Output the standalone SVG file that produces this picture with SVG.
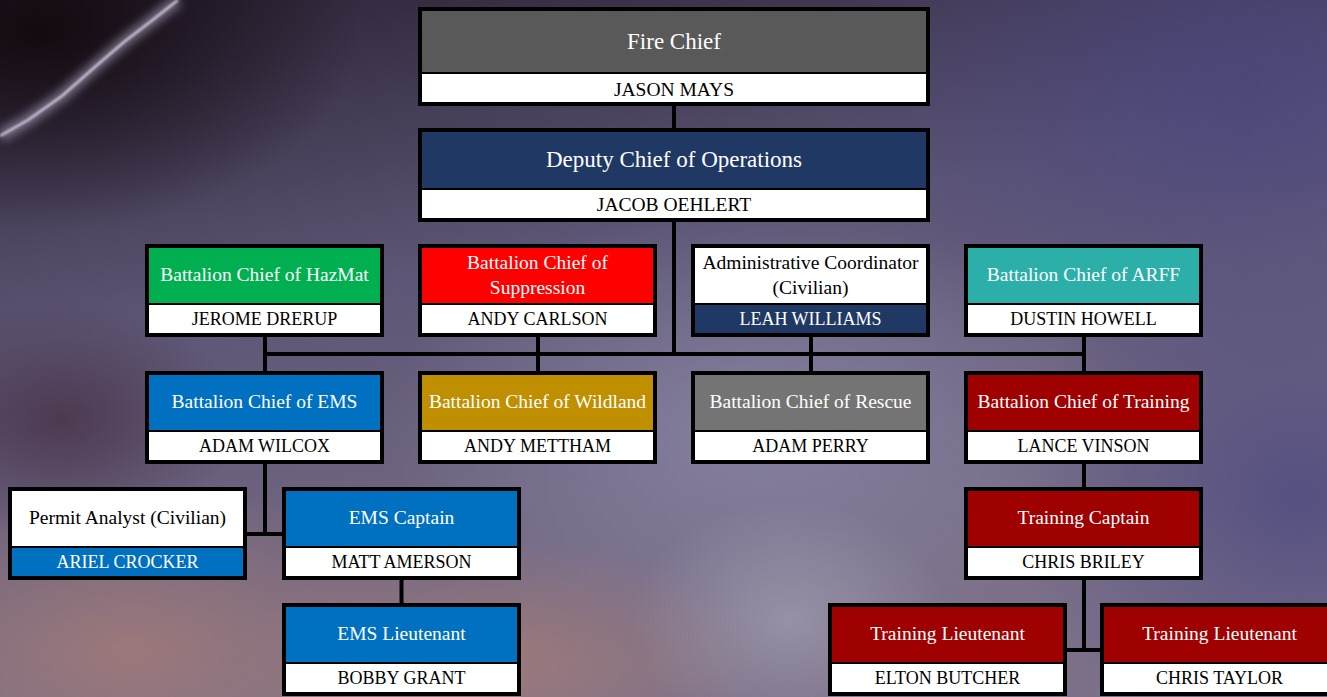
<svg xmlns="http://www.w3.org/2000/svg" width="1327" height="697" viewBox="0 0 1327 697">
<defs>
<linearGradient id="bgBase" x1="0" y1="0" x2="0.35" y2="1">
<stop offset="0" stop-color="#2a2133"/>
<stop offset="0.45" stop-color="#5e5676"/>
<stop offset="1" stop-color="#7d7189"/>
</linearGradient>
<radialGradient id="gDark"><stop offset="0" stop-color="#12080e" stop-opacity="0.95"/><stop offset="1" stop-color="#12080e" stop-opacity="0"/></radialGradient>
<radialGradient id="gBlue"><stop offset="0" stop-color="#45437e" stop-opacity="0.7"/><stop offset="1" stop-color="#45437e" stop-opacity="0"/></radialGradient>
<radialGradient id="gLav"><stop offset="0" stop-color="#8e8aab" stop-opacity="0.75"/><stop offset="1" stop-color="#8e8aab" stop-opacity="0"/></radialGradient>
<radialGradient id="gPink"><stop offset="0" stop-color="#a57c78" stop-opacity="0.8"/><stop offset="1" stop-color="#a57c78" stop-opacity="0"/></radialGradient>
<radialGradient id="gLight"><stop offset="0" stop-color="#b4b6c4" stop-opacity="0.45"/><stop offset="1" stop-color="#b4b6c4" stop-opacity="0"/></radialGradient>
<radialGradient id="gMauve"><stop offset="0" stop-color="#3c2434" stop-opacity="0.6"/><stop offset="1" stop-color="#3c2434" stop-opacity="0"/></radialGradient>
<filter id="glow" x="-50%" y="-50%" width="200%" height="200%"><feGaussianBlur stdDeviation="5"/></filter>
<filter id="soft" x="-20%" y="-20%" width="140%" height="140%"><feGaussianBlur stdDeviation="1"/></filter>
</defs>
<style>
.frame{fill:#000}
.white{fill:#fff}
.t{font-family:"Liberation Serif","Times New Roman",serif;text-anchor:middle}
.tw{fill:#fff}
.tb{fill:#000}
.ttl{font-size:19.5px}
.nm{font-size:18px}
.big{font-size:23px}
.bnm{font-size:19.5px}
.conn{stroke:#000;stroke-width:4;fill:none}
</style>

<g id="background">
<rect x="0" y="0" width="1327" height="697" fill="url(#bgBase)"/>
<ellipse cx="40" cy="30" rx="320" ry="200" fill="url(#gDark)"/>
<ellipse cx="1250" cy="90" rx="420" ry="300" fill="url(#gBlue)"/>
<ellipse cx="1300" cy="500" rx="300" ry="260" fill="url(#gBlue)"/>
<ellipse cx="760" cy="430" rx="380" ry="220" fill="url(#gLav)"/>
<ellipse cx="130" cy="650" rx="330" ry="170" fill="url(#gPink)"/>
<ellipse cx="500" cy="660" rx="260" ry="120" fill="url(#gPink)"/>
<ellipse cx="790" cy="620" rx="160" ry="120" fill="url(#gLight)"/>
<ellipse cx="60" cy="420" rx="180" ry="120" fill="url(#gMauve)"/>
<path d="M178 0 L150 22 L124 42 L96 66 L62 96 L28 120 L0 136" stroke="#d8d4f0" stroke-width="12" fill="none" opacity="0.45" filter="url(#glow)"/>
<path d="M178 0 L150 22 L124 42 L96 66 L62 96 L28 120 L0 136" stroke="#eeeaff" stroke-width="2.5" fill="none" opacity="0.75" filter="url(#soft)"/>
</g>

<g id="connectors">
<line class="conn" x1="674" y1="104" x2="674" y2="130"/>
<line class="conn" x1="674" y1="220" x2="674" y2="354"/>
<line class="conn" x1="263" y1="354" x2="1086" y2="354"/>
<line class="conn" x1="265" y1="335" x2="265" y2="373"/>
<line class="conn" x1="538" y1="335" x2="538" y2="373"/>
<line class="conn" x1="811" y1="335" x2="811" y2="373"/>
<line class="conn" x1="1084" y1="335" x2="1084" y2="373"/>
<line class="conn" x1="265" y1="462" x2="265" y2="536"/>
<line class="conn" x1="245" y1="534" x2="284" y2="534"/>
<line class="conn" x1="401.5" y1="578" x2="401.5" y2="605"/>
<line class="conn" x1="1084" y1="462" x2="1084" y2="489"/>
<line class="conn" x1="1084" y1="578" x2="1084" y2="652"/>
<line class="conn" x1="1065" y1="650" x2="1102" y2="650"/>
</g>

<g id="fire-chief">
<rect class="frame" x="418" y="7" width="512" height="99"/>
<rect x="422" y="11" width="504" height="61" fill="#595959"/>
<rect class="white" x="422" y="74" width="504" height="28"/>
<text class="t tw big" x="674" y="48.5">Fire Chief</text>
<text class="t tb bnm" x="674" y="95.5">JASON MAYS</text>
</g>

<g id="deputy-chief">
<rect class="frame" x="418" y="128" width="512" height="94"/>
<rect x="422" y="132" width="504" height="56" fill="#203864"/>
<rect class="white" x="422" y="190" width="504" height="28"/>
<text class="t tw big" x="674" y="167">Deputy Chief of Operations</text>
<text class="t tb bnm" x="674" y="211">JACOB OEHLERT</text>
</g>

<g id="bc-hazmat">
<rect class="frame" x="145" y="244" width="239" height="93"/>
<rect x="149" y="248" width="231" height="55" fill="#00b050"/>
<rect class="white" x="149" y="305" width="231" height="28"/>
<text class="t tw ttl" x="264.5" y="281">Battalion Chief of HazMat</text>
<text class="t tb nm" x="264.5" y="325">JEROME DRERUP</text>
</g>

<g id="bc-suppression">
<rect class="frame" x="418" y="244" width="239" height="93"/>
<rect x="422" y="248" width="231" height="55" fill="#ff0000"/>
<rect class="white" x="422" y="305" width="231" height="28"/>
<text class="t tw ttl" x="537.5" y="268.5">Battalion Chief of</text>
<text class="t tw ttl" x="537.5" y="293.5">Suppression</text>
<text class="t tb nm" x="537.5" y="325">ANDY CARLSON</text>
</g>

<g id="admin-coordinator">
<rect class="frame" x="691" y="244" width="239" height="93"/>
<rect class="white" x="695" y="248" width="231" height="55"/>
<rect x="695" y="305" width="231" height="28" fill="#203864"/>
<text class="t tb ttl" x="810.5" y="268.5">Administrative Coordinator</text>
<text class="t tb ttl" x="810.5" y="293.5">(Civilian)</text>
<text class="t tw nm" x="810.5" y="325">LEAH WILLIAMS</text>
</g>

<g id="bc-arff">
<rect class="frame" x="964" y="244" width="239" height="93"/>
<rect x="968" y="248" width="231" height="55" fill="#2cafa9"/>
<rect class="white" x="968" y="305" width="231" height="28"/>
<text class="t tw ttl" x="1083.5" y="281">Battalion Chief of ARFF</text>
<text class="t tb nm" x="1083.5" y="325">DUSTIN HOWELL</text>
</g>

<g id="bc-ems">
<rect class="frame" x="145" y="371" width="239" height="93"/>
<rect x="149" y="375" width="231" height="55" fill="#0070c0"/>
<rect class="white" x="149" y="432" width="231" height="28"/>
<text class="t tw ttl" x="264.5" y="408">Battalion Chief of EMS</text>
<text class="t tb nm" x="264.5" y="452">ADAM WILCOX</text>
</g>

<g id="bc-wildland">
<rect class="frame" x="418" y="371" width="239" height="93"/>
<rect x="422" y="375" width="231" height="55" fill="#bf8f00"/>
<rect class="white" x="422" y="432" width="231" height="28"/>
<text class="t tw ttl" x="537.5" y="408">Battalion Chief of Wildland</text>
<text class="t tb nm" x="537.5" y="452">ANDY METTHAM</text>
</g>

<g id="bc-rescue">
<rect class="frame" x="691" y="371" width="239" height="93"/>
<rect x="695" y="375" width="231" height="55" fill="#747474"/>
<rect class="white" x="695" y="432" width="231" height="28"/>
<text class="t tw ttl" x="810.5" y="408">Battalion Chief of Rescue</text>
<text class="t tb nm" x="810.5" y="452">ADAM PERRY</text>
</g>

<g id="bc-training">
<rect class="frame" x="964" y="371" width="239" height="93"/>
<rect x="968" y="375" width="231" height="55" fill="#9f0000"/>
<rect class="white" x="968" y="432" width="231" height="28"/>
<text class="t tw ttl" x="1083.5" y="408">Battalion Chief of Training</text>
<text class="t tb nm" x="1083.5" y="452">LANCE VINSON</text>
</g>

<g id="permit-analyst">
<rect class="frame" x="8" y="487" width="239" height="93"/>
<rect class="white" x="12" y="491" width="231" height="55"/>
<rect x="12" y="548" width="231" height="28" fill="#0070c0"/>
<text class="t tb ttl" x="127.5" y="524">Permit Analyst (Civilian)</text>
<text class="t tw nm" x="127.5" y="568">ARIEL CROCKER</text>
</g>

<g id="ems-captain">
<rect class="frame" x="282" y="487" width="239" height="93"/>
<rect x="286" y="491" width="231" height="55" fill="#0070c0"/>
<rect class="white" x="286" y="548" width="231" height="28"/>
<text class="t tw ttl" x="401.5" y="524">EMS Captain</text>
<text class="t tb nm" x="401.5" y="568">MATT AMERSON</text>
</g>

<g id="ems-lieutenant">
<rect class="frame" x="282" y="603" width="239" height="93"/>
<rect x="286" y="607" width="231" height="55" fill="#0070c0"/>
<rect class="white" x="286" y="664" width="231" height="28"/>
<text class="t tw ttl" x="401.5" y="640">EMS Lieutenant</text>
<text class="t tb nm" x="401.5" y="684">BOBBY GRANT</text>
</g>

<g id="training-captain">
<rect class="frame" x="964" y="487" width="239" height="93"/>
<rect x="968" y="491" width="231" height="55" fill="#9f0000"/>
<rect class="white" x="968" y="548" width="231" height="28"/>
<text class="t tw ttl" x="1083.5" y="524">Training Captain</text>
<text class="t tb nm" x="1083.5" y="568">CHRIS BRILEY</text>
</g>

<g id="training-lieutenant-1">
<rect class="frame" x="828" y="603" width="239" height="93"/>
<rect x="832" y="607" width="231" height="55" fill="#9f0000"/>
<rect class="white" x="832" y="664" width="231" height="28"/>
<text class="t tw ttl" x="947.5" y="640">Training Lieutenant</text>
<text class="t tb nm" x="947.5" y="684">ELTON BUTCHER</text>
</g>

<g id="training-lieutenant-2">
<rect class="frame" x="1100" y="603" width="239" height="93"/>
<rect x="1104" y="607" width="231" height="55" fill="#9f0000"/>
<rect class="white" x="1104" y="664" width="231" height="28"/>
<text class="t tw ttl" x="1219.5" y="640">Training Lieutenant</text>
<text class="t tb nm" x="1219.5" y="684">CHRIS TAYLOR</text>
</g>
</svg>
